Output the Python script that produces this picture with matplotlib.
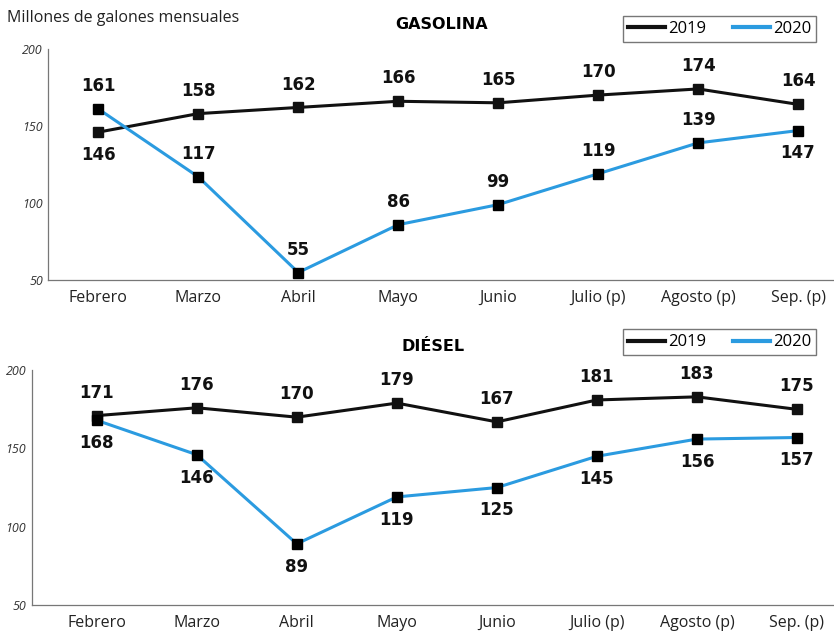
import matplotlib.pyplot as plt
from matplotlib.lines import Line2D

plt.rcParams['font.family'] = ['Open Sans', 'DejaVu Sans']

months = ['Febrero', 'Marzo', 'Abril', 'Mayo', 'Junio', 'Julio (p)', 'Agosto (p)', 'Sep. (p)']

gas_2019 = [146, 158, 162, 166, 165, 170, 174, 164]
gas_2020 = [161, 117, 55, 86, 99, 119, 139, 147]
die_2019 = [171, 176, 170, 179, 167, 181, 183, 175]
die_2020 = [168, 146, 89, 119, 125, 145, 156, 157]

# label above (+1) or below (-1) the point
gas_2019_pos = [-1, 1, 1, 1, 1, 1, 1, 1]
gas_2020_pos = [1, 1, 1, 1, 1, 1, 1, -1]
die_2019_pos = [1, 1, 1, 1, 1, 1, 1, 1]
die_2020_pos = [-1, -1, -1, -1, -1, -1, -1, -1]

c19 = '#111111'
c20 = '#2b9be0'

fig = plt.figure(figsize=(8.34, 6.34), dpi=100)
ax1 = fig.add_axes([0.058, 0.558, 0.942, 0.365])
ax2 = fig.add_axes([0.038, 0.046, 0.962, 0.37])


def draw(ax, v19, v20, p19, p20, title, xlim):
    x = range(len(months))
    ax.plot(x, v19, color=c19, lw=2.2, marker='s', ms=7, zorder=3)
    ax.plot(x, v20, color=c20, lw=2.2, marker='s', ms=7, mfc='black', mec='black', zorder=3)
    for vals, pos in ((v19, p19), (v20, p20)):
        for i, (v, p) in enumerate(zip(vals, pos)):
            ax.annotate(str(v), (i, v), xytext=(0, 10 * p), textcoords='offset points',
                        ha='center', va='bottom' if p > 0 else 'top',
                        fontsize=12, fontweight='bold', family='DejaVu Sans', color='#111111')
    ax.set_ylim(50, 200)
    ax.set_xlim(*xlim)
    ax.set_yticks([50, 100, 150, 200])
    ax.set_yticklabels(['50', '100', '150', '200'], fontsize=9, style='italic', color='#333333')
    ax.set_xticks(list(x))
    ax.set_xticklabels(months, fontsize=11.5, color='#222222')
    ax.tick_params(length=0, pad=7)
    ax.tick_params(axis='y', pad=4)
    for s in ('top', 'right'):
        ax.spines[s].set_visible(False)
    ax.spines['left'].set_color('#777777')
    ax.spines['bottom'].set_color('#777777')
    ax.spines['left'].set_linewidth(0.9)
    ax.spines['bottom'].set_linewidth(0.9)
    ax.set_title(title, fontsize=11.5, fontweight='bold', family='DejaVu Sans', pad=14, x=0.5)


draw(ax1, gas_2019, gas_2020, gas_2019_pos, gas_2020_pos, 'GASOLINA', (-0.5, 7.36))
draw(ax2, die_2019, die_2020, die_2019_pos, die_2020_pos, 'DIÉSEL', (-0.65, 7.37))

fig.text(0.008, 0.972, 'Millones de galones mensuales', fontsize=11.5, color='#222222', va='center')

handles = [Line2D([], [], color=c19, lw=3), Line2D([], [], color=c20, lw=3)]
for yb in (0.955, 0.46):
    fig.legend(handles, ['2019', '2020'], loc='center', bbox_to_anchor=(0.863, yb), ncol=2,
               fontsize=12, frameon=True, fancybox=False, edgecolor='#555555',
               handlelength=2.2, handletextpad=0.2, columnspacing=1.6, borderpad=0.3)

fig.savefig('out.png', dpi=100)
